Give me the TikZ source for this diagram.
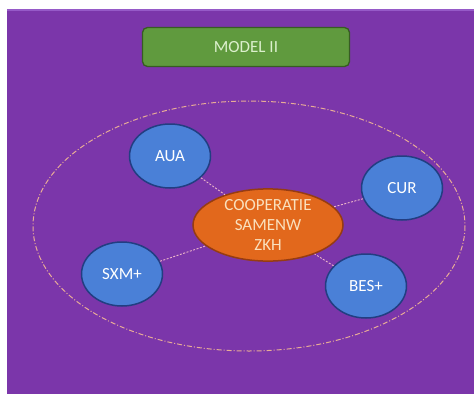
\documentclass[tikz,border=0pt]{standalone}
\usepackage{fontspec}
\setmainfont{Carlito}
\usepackage{tikz}
\usepackage{xcolor}
\usetikzlibrary{shapes, positioning}

\definecolor{bgpurple}{RGB}{123,54,170}
\definecolor{edgepurple}{RGB}{150,90,200}
\definecolor{islandblue}{RGB}{74,128,215}
\definecolor{islandrim}{RGB}{34,62,130}
\definecolor{coreorange}{RGB}{226,104,28}
\definecolor{corerim}{RGB}{150,60,18}
\definecolor{titlegreen}{RGB}{96,154,62}
\definecolor{titlerim}{RGB}{55,92,35}
\definecolor{linkpink}{RGB}{236,180,200}
\definecolor{ringpeach}{RGB}{232,172,150}

\begin{document}
\begin{tikzpicture}[x=1pt, y=-1pt,
        island/.style={ellipse, draw=islandrim, line width=1.5pt, fill=islandblue,
            minimum width=81pt, minimum height=64pt, inner sep=0pt,
            text=white, font=\fontsize{17}{19}\selectfont},
        link/.style={draw=linkpink, line width=0.9pt, dash pattern=on 2pt off 1.5pt}]
        \useasboundingbox (0, 0) rectangle (474, 394);
        \fill[white] (0, 0) rectangle (474, 394);
        \fill[bgpurple] (7, 9) rectangle (474, 394);
        \draw[edgepurple, line width=1.5pt] (7, 10) -- (474, 10);

        \draw[ringpeach, line width=1pt, dash pattern=on 5pt off 2pt on 1pt off 2pt]
            (249, 226) ellipse [x radius=216, y radius=125];

        \node[rounded corners=5pt, draw=titlerim, line width=1.3pt, fill=titlegreen,
            minimum width=207pt, minimum height=39pt, text={rgb,255:red,220;green,240;blue,205},
            font=\fontsize{17}{19}\selectfont] (title) at (246, 47) {MODEL II};

        \node[ellipse, draw=corerim, line width=1.5pt, fill=coreorange,
            minimum width=150pt, minimum height=64pt, inner sep=0pt, align=center,
            text={rgb,255:red,250;green,225;blue,190},
            font=\fontsize{17}{20}\selectfont] (coop) at (268, 225) {COOPERATIE\\SAMENW\\ZKH};

        \node[island] (aua) at (170, 156) {AUA};
        \node[island] (cur) at (402, 188) {CUR};
        \node[island] (sxm) at (122, 274) {SXM+};
        \node[island] (bes) at (366, 286) {BES+};

        \draw[link] (aua) to (coop)
            (cur) to (coop)
            (sxm) to (coop)
            (bes) to (coop);
    \end{tikzpicture}
\end{document}
